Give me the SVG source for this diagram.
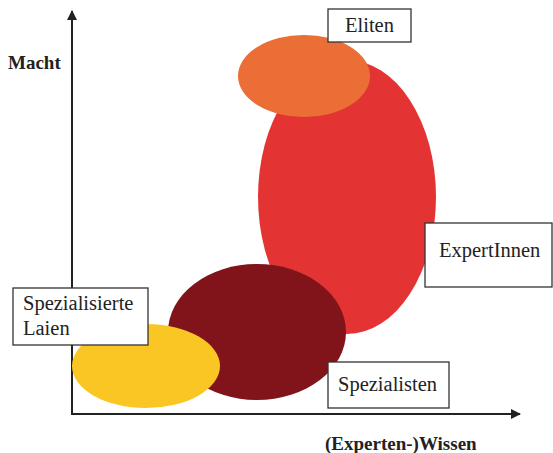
<svg xmlns="http://www.w3.org/2000/svg" width="553" height="453" viewBox="0 0 553 453">
<style>
.lbl{font-family:"Liberation Serif","Times New Roman",serif;font-size:20.5px;fill:#222}
.ax{font-family:"Liberation Serif","Times New Roman",serif;font-size:19px;font-weight:bold;fill:#222}
.box{fill:#fff;stroke:#333;stroke-width:1.3}
.axis{stroke:#222;stroke-width:2;fill:none}
</style>
<defs>
<marker id="arr" viewBox="0 0 10 10" refX="9" refY="5" markerWidth="5" markerHeight="5" orient="auto" markerUnits="strokeWidth">
<path d="M0,0 L10,5 L0,10 Z" fill="#222"/>
</marker>
</defs>
<rect width="553" height="453" fill="#fff"/>
<g id="connectors">
<line class="axis" x1="72" y1="415" x2="72" y2="11" marker-end="url(#arr)"/>
<line class="axis" x1="71" y1="414" x2="520" y2="414" marker-end="url(#arr)"/>
</g>
<g id="expertinnen-shape"><ellipse cx="347" cy="197" rx="89" ry="137" fill="#E43333"/></g>
<g id="eliten-shape"><ellipse cx="304" cy="76" rx="66" ry="41" fill="#EA6E36"/></g>
<g id="spezialisten-shape"><ellipse cx="257" cy="332" rx="89" ry="68" fill="#80141A"/></g>
<g id="laien-shape"><ellipse cx="146" cy="366" rx="74" ry="42" fill="#F9C623"/></g>
<g id="macht"><text class="ax" x="8" y="69">Macht</text></g>
<g id="wissen"><text class="ax" x="325" y="450">(Experten-)Wissen</text></g>
<g id="eliten"><rect class="box" x="328" y="9" width="83" height="33"/><text class="lbl" x="369.5" y="32" text-anchor="middle">Eliten</text></g>
<g id="expertinnen"><rect class="box" x="425" y="223" width="127" height="64"/><text class="lbl" x="439" y="257">ExpertInnen</text></g>
<g id="spezialisten"><rect class="box" x="328" y="362" width="121" height="46"/><text class="lbl" x="338" y="391">Spezialisten</text></g>
<g id="laien"><rect class="box" x="13" y="288" width="135" height="57"/><text class="lbl" x="23" y="310">Spezialisierte</text><text class="lbl" x="23" y="335">Laien</text></g>
</svg>
